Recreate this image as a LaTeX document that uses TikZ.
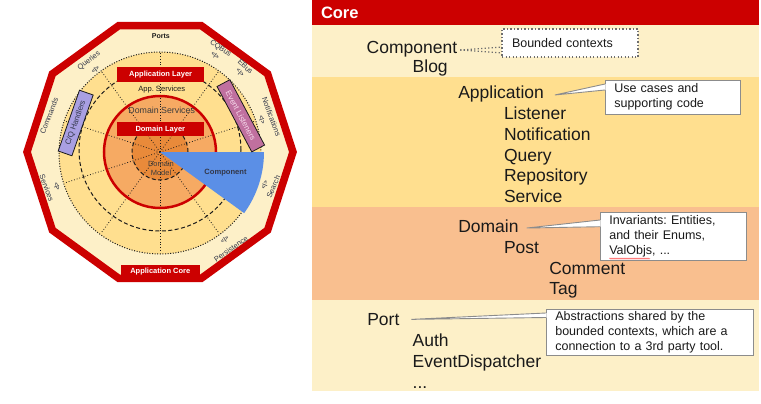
\documentclass[tikz,border=0pt]{standalone}
\usepackage{fontspec}
\setmainfont{Liberation Sans}
\usetikzlibrary{calc,decorations.pathmorphing}
\definecolor{cred}{HTML}{CC0000}
\definecolor{pale}{HTML}{FDF0C8}
\definecolor{appy}{HTML}{FFDF8F}
\definecolor{salmon}{HTML}{F9BF8F}
\definecolor{domo}{HTML}{F6AA63}
\definecolor{modo}{HTML}{E98A3A}
\definecolor{cblue}{HTML}{5B8FE6}
\definecolor{lav}{HTML}{A99FE2}
\definecolor{mauve}{HTML}{C0709F}
\definecolor{ink}{HTML}{1A1A1A}
\definecolor{ringink}{HTML}{33384A}
\definecolor{boxgray}{HTML}{8C8C8C}
\definecolor{dotgray}{HTML}{6E6E6E}
\definecolor{elpink}{HTML}{F6D8EA}
\frenchspacing
\begin{document}
\begin{tikzpicture}[x=1pt,y=-1pt,
  every node/.style={inner sep=0pt, outer sep=0pt},
  maintext/.style={anchor=base west, font=\fontsize{17.5}{20}\selectfont, text=ink},
  callout/.style={draw=boxgray, fill=white, line width=0.9pt, font=\fontsize{12.5}{15}\selectfont, text=ink, align=left, inner xsep=9.3pt, inner ysep=0pt, anchor=north west},
  wedgeline/.style={draw=boxgray, line width=0.9pt},
  radial/.style={draw=ink, line width=0.8pt, dash pattern=on 0.8pt off 2pt},
  dotcirc/.style={draw=ink, line width=1pt, dash pattern=on 1pt off 1.6pt},
  dashcirc/.style={draw=ink, line width=1pt, dash pattern=on 4pt off 2.5pt},
  redlabel/.style={fill=cred, text=white, font=\bfseries\fontsize{7.5}{8}\selectfont},
  ringlabel/.style={font=\fontsize{7.5}{8}\selectfont, text=ringink},
  portsym/.style={font=\bfseries\fontsize{5.5}{6}\selectfont, text=ringink},
  cqbox/.style={draw=ink, fill=lav, line width=0.8pt, minimum width=64.4pt, minimum height=14.5pt, font=\fontsize{7.8}{8}\selectfont, text=ringink},
  elbox/.style={draw=ink, fill=mauve, line width=0.8pt, minimum width=74pt, minimum height=14.5pt, font=\fontsize{8}{8}\selectfont, text=elpink},
]
\useasboundingbox (0,0) rectangle (761,404);
\fill[white] (0,0) rectangle (761,404);

% ---------------- left: decagonal architecture ----------------
\begin{scope}[shift={(160,152)}, x=1pt, y=1pt]
  \draw[cred, line width=7.5pt, fill=pale, line join=miter]
    (0:133) -- (36:133) -- (72:133) -- (108:133) -- (144:133) -- (180:133)
    -- (216:133) -- (252:133) -- (288:133) -- (324:133) -- cycle;
  \fill[appy] (0,-1) circle (101);
  \fill[domo] (0,0) circle (56);
  \fill[modo] (0,0) circle (28);
  \foreach \a in {18,54,...,342} \draw[radial] (0,0) -- (\a:100);
  \draw[dashcirc] (0,2) circle (81);
  \draw[dotcirc] (0,-1) circle (101);
  \draw[cred, line width=2.5pt] (0,0) circle (56);
  \draw[dashcirc] (0,0) circle (28);
  \fill[cblue] (0,0) -- (0:104) arc[start angle=0, end angle=-36, radius=104] -- cycle;

  \node[redlabel, minimum width=87pt, minimum height=15pt] (applayer) at (0.7,77.8) {Application Layer};
  \node[redlabel, minimum width=87pt, minimum height=14pt] (domlayer) at (0.3,22.7) {Domain Layer};
  \node[redlabel, minimum width=79pt, minimum height=14pt] (appcore) at (0.3,-119.5) {Application Core};
  \node[font=\bfseries\fontsize{7}{8}\selectfont, text=ink] (ports) at (0.8,116) {Ports};
  \node[font=\fontsize{7.6}{8}\selectfont, text=ink] (appserv) at (1.7,62.7) {App. Services};
  \node[font=\fontsize{8.8}{9}\selectfont, text=ink!85] (domserv) at (1.7,42) {Domain Services};
  \node[font=\fontsize{7.5}{9}\selectfont, text=ink!85, align=center] (dommodel) at (1,-16.8) {Domain\\Model};
  \node[font=\bfseries\fontsize{7.6}{8}\selectfont, text=ringink] (compo) at (65.5,-20.3) {Component};

  \node[cqbox, rotate=70.7] (cq) at (-84.3,29) {C/Q Handlers};
  \node[elbox, rotate=-62] (el) at (80.8,36.2) {Event Listeners};

  \node[ringlabel, rotate=37.7] (queries) at (-71,91.3) {Queries};
  \node[portsym, rotate=37.7] (queriesp) at (-64.3,82) {<|>};
  \node[ringlabel, rotate=69] (commands) at (-111,36) {Commands};
  \node[ringlabel, rotate=-70] (services) at (-113.3,-36) {Services};
  \node[portsym, rotate=-70] (servicesp) at (-103.3,-34.7) {<|>};
  \node[ringlabel, rotate=34.4] (persist) at (71,-97) {Persistence};
  \node[portsym, rotate=34.4] (persistp) at (65,-88) {<|>};
  \node[ringlabel, rotate=67] (search) at (113.3,-34.7) {Search};
  \node[portsym, rotate=67] (searchp) at (105,-33) {<|>};
  \node[ringlabel, rotate=-69.4] (notif) at (111.5,35) {Notifications};
  \node[portsym, rotate=-69.4] (notifp) at (101.7,32) {<|>};
  \node[ringlabel, rotate=-44] (ebus) at (85.5,85.5) {EBus};
  \node[portsym, rotate=-44] (ebusp) at (80,79.3) {<|>};
  \node[ringlabel, rotate=-35] (cqbus) at (60.5,103.5) {CQBus};
  \node[portsym, rotate=-35] (cqbusp) at (55,96) {<|>};
\end{scope}

% ---------------- right: Core panel ----------------
\fill[cred] (312,0) rectangle (759,25);
\fill[pale] (312,25) rectangle (759,77);
\fill[appy] (312,77) rectangle (759,207);
\fill[salmon] (312,207) rectangle (759,300);
\fill[pale] (312,300) rectangle (759,391);
\node[anchor=west, text=white, font=\bfseries\fontsize{16.5}{18}\selectfont] (core) at (321,13) {Core};

\node[maintext] (comp) at (366.7,53.3) {Component};
\node[maintext] (blog) at (412.7,72.7) {Blog};
\node[maintext] (app) at (458.3,99) {Application};
\node[maintext] (lis) at (504,119.5) {Listener};
\node[maintext] (noti) at (504,140.3) {Notification};
\node[maintext] (query) at (504,161) {Query};
\node[maintext] (repo) at (504,181.7) {Repository};
\node[maintext] (serv) at (504,202.3) {Service};
\node[maintext] (dom) at (458.3,232.3) {Domain};
\node[maintext] (post) at (504,253.3) {Post};
\node[maintext] (comm) at (549.3,274) {Comment};
\node[maintext] (tag) at (549.3,294.5) {Tag};
\node[maintext] (port) at (367.3,325) {Port};
\node[maintext] (auth) at (412.7,346.5) {Auth};
\node[maintext] (evd) at (412.7,367.5) {EventDispatcher};
\node[maintext] (etc) at (412.7,388.3) {...};

% callouts
\node[callout, draw=dotgray, line width=1.3pt, dash pattern=on 1.3pt off 2.2pt, inner xsep=10pt,
      minimum width=136pt, minimum height=28pt, text width=116pt] (bc) at (502,29) {Bounded contexts};
\node[callout, minimum width=135pt, minimum height=34pt, text width=116.4pt] (uc) at (605,80)
  {Use cases and\\supporting code};
\node[callout, minimum width=146pt, minimum height=48pt, text width=127.4pt] (inv) at (600,212)
  {Invariants: Entities,\\and their Enums,\\ValObjs, ...};
\node[callout, minimum width=207pt, minimum height=46pt, text width=188.4pt] (abs) at (546,309)
  {Abstractions shared by the\\bounded contexts, which are a\\connection to a 3rd party tool.};

% spell-check squiggle under ValObjs
\draw[red!70, line width=0.5pt, decorate, decoration={zigzag, amplitude=0.6pt, segment length=2pt}]
  (609.5,258.6) -- (650,258.6);

% pointers
\coordinate (comptip) at ($(comp.east)+(3,1)$);
\draw[dotgray, line width=1.3pt, dash pattern=on 1.3pt off 2.2pt] (comptip) -- ($(bc.south west)+(0,-10)$);
\draw[dotgray, line width=1.3pt, dash pattern=on 1.3pt off 2.2pt] (comptip) -- ($(bc.south west)+(0,-4)$);

\coordinate (apptip) at ($(app.east)+(11,0.5)$);
\fill[white] (apptip) -- ($(uc.north west)+(0.6,4)$) -- ($(uc.north west)+(0.6,10)$) -- cycle;
\draw[wedgeline] ($(uc.north west)+(0,4)$) -- (apptip) -- ($(uc.north west)+(0,10)$);

\coordinate (domtip) at ($(dom.east)+(8,2)$);
\fill[white] (domtip) -- ($(inv.north west)+(0.6,8)$) -- ($(inv.north west)+(0.6,14.7)$) -- cycle;
\draw[wedgeline] ($(inv.north west)+(0,8)$) -- (domtip) -- ($(inv.north west)+(0,14.7)$);

\coordinate (porttip) at ($(port.east)+(12,0.3)$);
\fill[white] (porttip) -- ($(abs.north west)+(0.6,4)$) -- ($(abs.north west)+(0.6,8.5)$) -- cycle;
\draw[wedgeline] ($(abs.north west)+(0,4)$) -- (porttip) -- ($(abs.north west)+(0,8.5)$);
\end{tikzpicture}
\end{document}
